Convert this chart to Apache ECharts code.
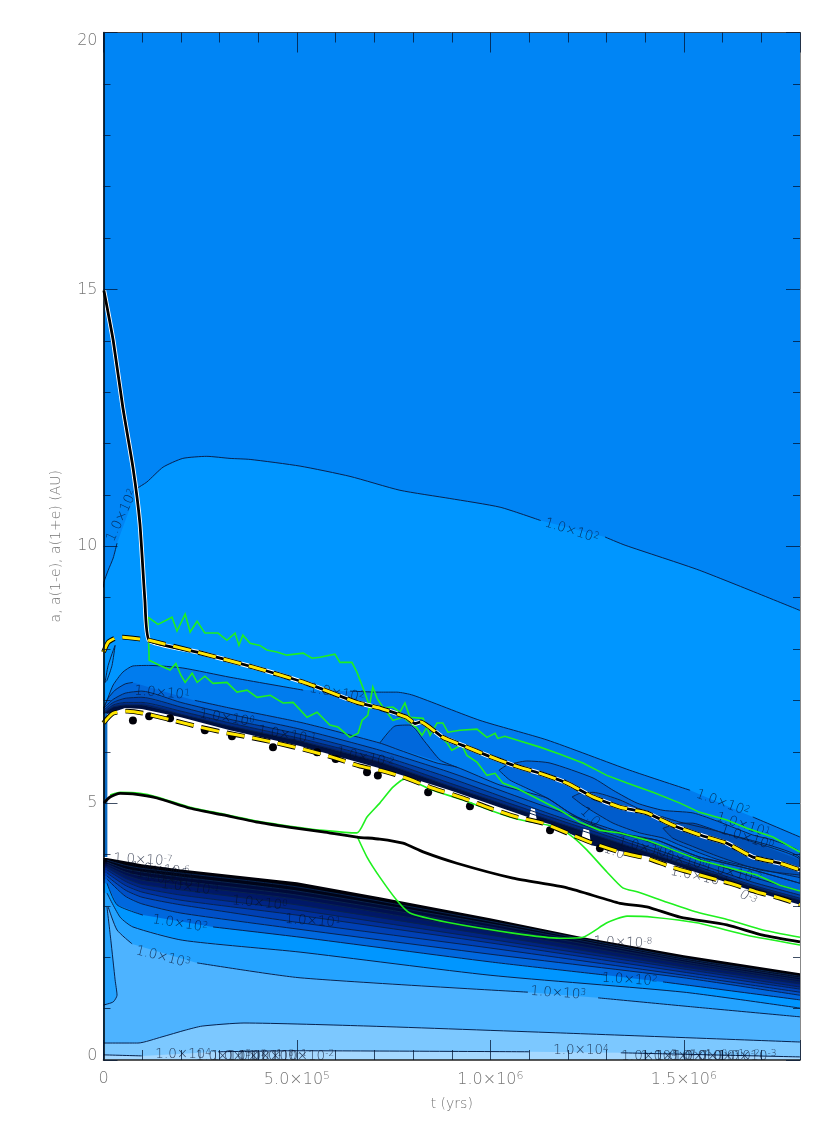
<!DOCTYPE html>
<html>
<head>
<meta charset="utf-8">
<title>a, a(1-e), a(1+e) against t</title>
<script src="https://cdn.jsdelivr.net/npm/echarts@6/dist/echarts.min.js"></script>
<style>
  html, body { margin: 0; padding: 0; background: #fff; }
  #chart { width: 830px; height: 1127px; }
</style>
</head>
<body>
<div id="chart"></div>
<script>
// every curve is [t in units of 1e5 yr, a in AU]; null marks a gap for a contour label
const tMax = 18;

// orbit curves
const planetTrack = [[0.01,14.98],[0.25,14.01],[0.5,12.7],[0.76,11.54],[0.94,10.45],[1.07,8.95],[1.18,8.17],[2.42,7.94],[3.86,7.65],[5.26,7.33],[6.55,6.96],[7.14,6.85],[7.84,6.67],[8.05,6.55],[8.2,6.58],[8.77,6.28],[9.39,6.09],[9.91,5.93],[10.58,5.74],[11.28,5.58],[11.98,5.39],[12.65,5.12],[13.35,4.92],[14.04,4.81],[14.71,4.57],[15.41,4.38],[16.11,4.22],[16.78,3.95],[17.48,3.83],[18,3.7]];
const upperDashHead = [[0,7.94],[0.12,8.13],[0.3,8.21],[0.5,8.23],[0.99,8.19]];
const lowerDash = [[0,6.56],[0.25,6.75],[0.61,6.79],[1.02,6.75],[1.8,6.61],[2.49,6.48],[3.09,6.38],[3.79,6.28],[4.48,6.17],[5.26,6.03],[5.93,5.89],[6.63,5.72],[7.14,5.64],[7.74,5.51],[8.51,5.29],[9.29,5.1],[9.99,4.9],[10.68,4.73],[11.36,4.61],[11.98,4.42],[12.65,4.22],[13.42,4.03],[14.04,3.93],[14.71,3.75],[15.41,3.6],[16.19,3.44],[16.89,3.27],[17.48,3.15],[18,3.02]];
const innerTrack = [[0.01,5],[0.17,5.12],[0.43,5.19],[0.76,5.18],[1.38,5.1],[2.24,4.9],[3.09,4.77],[3.97,4.63],[4.82,4.53],[5.67,4.44],[6.55,4.34],[7.14,4.3],[7.74,4.22],[8.26,4.05],[9.13,3.83],[10.58,3.54],[11.98,3.35],[13.35,3.05],[14.04,2.98],[14.9,2.78],[16.11,2.63],[17.04,2.43],[18,2.3]];
const greenUpper = [[1.15,8.62],[1.41,8.48],[1.67,8.58],[1.77,8.62],[1.9,8.35],[2.11,8.68],[2.24,8.33],[2.42,8.54],[2.62,8.31],[2.96,8.31],[3.19,8.17],[3.4,8.31],[3.5,8.07],[3.6,8.27],[3.79,8.11],[4.04,8.07],[4.22,7.98],[4.48,7.94],[4.74,7.88],[5.16,7.92],[5.39,7.82],[5.59,7.84],[5.98,7.9],[6.11,7.74],[6.42,7.74],[6.55,7.55],[6.76,7.14],[6.89,6.85],[7.14,6.85],[7.48,6.87],[7.66,6.77],[7.79,6.95],[7.92,6.67],[8.26,6.65],[8.44,6.32],[8.62,6.56],[8.77,6.56],[8.9,6.38],[9.21,6.42],[9.65,6.44],[9.91,6.28],[10.12,6.36],[10.19,6.26],[10.37,6.3],[10.68,6.23],[11.28,6.09],[11.8,5.95],[12.39,5.78],[13.01,5.54],[13.53,5.39],[14.2,5.21],[14.9,5],[15.41,4.82],[16.11,4.67],[16.63,4.51],[17.3,4.34],[18,4.05]];
const greenLower = [[1.15,8.62],[1.18,7.78],[1.46,7.68],[1.72,7.59],[1.87,7.72],[2,7.49],[2.11,7.35],[2.29,7.53],[2.42,7.35],[2.62,7.47],[2.83,7.33],[3.19,7.35],[3.45,7.16],[3.71,7.2],[3.97,7.06],[4.31,7.1],[4.64,6.95],[4.9,6.96],[5.26,6.67],[5.52,6.77],[5.85,6.52],[6.06,6.48],[6.37,6.28],[6.58,6.36],[6.68,6.61],[6.83,6.71],[6.96,7.26],[7.07,7.04],[7.22,6.87],[7.48,6.61],[7.74,6.67],[8.1,6.46],[8.23,6.32],[8.39,6.52],[8.88,6.17],[9,6.03],[9.26,6.13],[9.39,5.93],[9.65,5.8],[9.91,5.54],[10.12,5.58],[10.32,5.39],[10.68,5.29],[11.28,5.06],[11.8,4.86],[12.31,4.63],[12.83,4.47],[13.35,4.42],[14.04,4.28],[14.71,4.09],[15.41,3.89],[16.11,3.75],[16.89,3.6],[17.48,3.4],[18,3.29]];
const greenInnerUp = [[0.17,5.16],[0.43,5.21],[0.94,5.19],[1.38,5.12],[2.24,4.92],[3.09,4.79],[3.97,4.65],[4.82,4.55],[5.67,4.47],[6.55,4.42],[6.81,4.73],[7.14,5],[7.48,5.31],[7.79,5.47],[8.51,5.25],[9.29,5.06],[9.99,4.86],[10.68,4.69],[11.72,4.53],[12.13,4.34],[12.49,4.09],[13.01,3.66],[13.42,3.35],[13.81,3.27],[14.56,3.07],[15.33,2.88],[16.19,2.72],[17.04,2.53],[18,2.39]];
const greenInnerDown = [[6.55,4.36],[6.81,3.95],[7.14,3.56],[7.58,3.11],[7.92,2.86],[8.88,2.68],[10.58,2.47],[11.8,2.37],[12.39,2.39],[13.01,2.67],[13.53,2.8],[14.2,2.78],[15.33,2.67],[16.63,2.43],[18,2.24]];

// upper contours
const upper100 = [[0,9.2],[0.01,9.3],[0.12,9.53],[0.25,9.77],[0.35,10.06],null,[0.87,11.13],[1.12,11.25],[1.54,11.54],[2.05,11.71],[2.67,11.75],[3.27,11.71],[3.79,11.69],[5.08,11.56],[6.37,11.36],[7.66,11.09],[8.95,10.93],[10.25,10.76],[11.3,10.5],null,[12.96,10.18],[13.48,10.02],[15.41,9.53],[18,8.75]];
const belt1 = [[0,6.85],[0.12,7.06],[0.25,7.3],[0.5,7.55],[0.76,7.67],[1.2,7.68],[2.05,7.63],[3.27,7.45],[5.16,7.2],null,[6.37,7.18],[7.14,7.16],[7.58,7.16],[8,7.1],[9.73,6.61],[11.46,6.23],[13.6,5.64],[15.16,5.25],null,[16.78,4.73],[18,4.34]];
const belt2 = [[0.01,6.85],[0.12,7.04],[0.3,7.2],[0.56,7.32],[0.76,7.35],null,[2.36,7],[3.27,6.85],[5.16,6.56],[7.14,6.17],[7.66,6.03],[8.62,5.78],[9.13,5.7],[10.25,5.35],[11.46,5.1],[12.05,4.81],[13.01,4.47],[14.3,4.28],[15.41,3.95],[16.78,3.7],[18,3.44]];
const lobeD = [[9.13,5.7],[8.7,5.84],[8.31,6.19],[7.92,6.52],[7.53,6.5],[7.14,6.17]];
const lobeA = [[10.22,5.64],[10.43,5.74],[10.94,5.82],[11.54,5.78],[12.65,5.49],[13.17,5.25],[13.79,5],[14.46,4.86],[15.23,4.81],[15.93,4.63],[16.78,4.38],[17.3,4.28],[18,4.03],[18,3.44],[16.78,3.7],[16.11,3.83],[15.41,3.95],[14.9,4.09],[14.3,4.28],[13.68,4.34],[13.01,4.47],[12.49,4.61],[12.05,4.81],[11.46,5.1],[10.94,5.29],[10.5,5.45],[10.22,5.64]];
const lobeB = [[12.11,5.12],[12.31,5.19],[12.65,5.21],[13.35,5.06],[14.04,4.82],[14.46,4.73],[14.9,4.63],[15.93,4.44],[18,3.92],[18,3.55],[15.93,3.89],[14.9,4.18],[14.46,4.32],[13.86,4.42],[13.17,4.61],[12.39,4.96],[12.11,5.12]];
const lobeC = [[14.46,4.51],[14.9,4.61],[15.23,4.61],[15.59,4.53],[15.93,4.44],[16.89,4.22],[18,3.89],[18,3.6],[16.96,3.7],[15.93,3.95],[15.15,4.18],[14.71,4.32],[14.46,4.51]];
const lensLeft = [[0.04,7.35],[0.12,7.68],[0.25,7.97],[0.3,8.07],[0.22,7.68],[0.09,7.39],[0.04,7.35]];

// belt contours just above the white gap, read at these times
const beltTimes = [0.01,0.25,0.56,0.99,2,3.27,5.08,7.14,8.95,11.54,14.12,16.7,18];
const belt3 = [6.85,7.02,7.14,7.18,6.96,6.73,6.44,6.03,5.6,4.9,4.24,3.58,3.29];
const belt4 = [6.81,6.96,7.04,7.06,6.87,6.63,6.34,5.93,5.49,4.79,4.14,3.48,3.21];
const belt5 = [6.77,6.91,6.96,6.96,6.79,6.56,6.26,5.86,5.39,4.73,4.09,3.42,3.15];
const belt6 = [6.75,6.87,6.91,6.91,6.73,6.5,6.21,5.8,5.33,4.67,4.03,3.39,3.11];
const whiteTop = [[0.09,6.73],[0.56,6.85],[0.99,6.83],[2,6.67],[3.27,6.42],[5.08,6.11],[7.14,5.68],[8.95,5.25],[11,4.72],[11.05,4.9],[11.15,4.88],[11.2,4.66],[11.54,4.59],[12.35,4.3],[12.4,4.5],[12.55,4.48],[12.6,4.18],[14.12,3.95],[16.7,3.31],[18,3.02]];
const blobs = [[0.76,6.61],[1.18,6.69],[1.72,6.65],[2.62,6.42],[3.32,6.3],[4.38,6.09],[5.52,5.99],[6,5.86],[6.81,5.6],[7.09,5.54],[8.39,5.21],[9.47,4.94],[11.54,4.47],[12.83,4.12]];
const leftStripe = [[0,6.75],[0.1,6.75],[0.1,3.95],[0,3.95]];

// lower contours, dark band read at these times
const darkTop = [[0.09,3.93],[0.56,3.87],[0.99,3.81],[2,3.71],[5,3.46],[7.14,3.17],[9.99,2.76],[12.39,2.39],[15,2.04],[18,1.69]];
const darkTimes = [0.09,0.56,0.99,2,5,9.99,15,18];
const dark1 = [3.89,3.79,3.73,3.64,3.37,2.7,1.98,1.63];
const dark2 = [3.85,3.72,3.66,3.56,3.29,2.65,1.95,1.6];
const dark3 = [3.81,3.66,3.58,3.48,3.21,2.59,1.91,1.56];
const dark4 = [3.77,3.6,3.5,3.4,3.13,2.51,1.87,1.52];
const dark5 = [3.74,3.54,3.42,3.31,3.02,2.43,1.81,1.48];
const dark6 = [3.7,3.48,3.35,3.21,2.92,2.35,1.77,1.42];
const dark7 = [3.64,3.4,3.27,3.11,2.82,2.28,1.71,1.38];
const dark8 = [3.58,3.31,3.17,3.02,2.68,2.18,1.65,1.32];
const dark9 = [3.52,3.19,3.04,2.86,2.55,2.06,1.6,1.26];
const lower100 = [[0.09,3.44],[0.35,3.02],[1.02,2.82],null,[2.83,2.59],[5.08,2.39],[9.99,1.91],[13.01,1.65],null,[14.46,1.52],[18,1.17]];
const lower300 = [[0.09,3.25],[0.43,2.78],[0.76,2.59],[2.05,2.33],[5.08,2.1],[9.99,1.65],[15,1.32],[18,1.01]];
const lower1000 = [[0.12,2.98],[0.35,2.53],[0.74,2.26],null,[2.42,1.89],[5.08,1.6],[10.97,1.32],null,[12.78,1.21],[15.28,1.03],[18,0.84]];
const lobeLow = [[0.09,2.98],[0.19,2.33],[0.3,1.56],[0.35,1.26],[0.25,1.13],[0,1.07]];
const lower3000 = [[0,0.33],[0.89,0.33],[1.51,0.45],[2.11,0.58],[2.55,0.66],[3.63,0.72],[6.86,0.66],[11.69,0.53],[18,0.35]];
const lower10000 = [[0,0.1],[0.99,0.08],null,[2.96,0.16],[4.95,0.18],[11,0.16],null,[13.37,0.14],[18,0.06]];

// contour labels: t, a, text, rotation
const contourLabels = [
  [0.48,10.6,'1.0×10{s|2}',65],[12.1,10.3,'1.0×10{s|2}',-17],[6.03,7.14,'1.0×10{s|2}',-10],
  [1.51,7.14,'1.0×10{s|1}',-5],[3.19,6.65,'1.0×10{s|0}',-9],[4.74,6.32,'1.0×10{s|-1}',-10],[6.76,5.88,'1.0×10{s|-2}',-12],
  [16,5,'1.0×10{s|2}',-20],[16.53,4.57,'1.0×10{s|1}',-18],[16.63,4.32,'1.0×10{s|0}',-18],
  [12.57,4.73,'1.0',-45],[13.2,4.05,'1.0',-20],[14,4.12,'1.0×10{s|1}',-14],[14.9,3.9,'1.0×10{s|0}',-14],
  [15.4,3.56,'1.0×10{s|-1}',-12],[16.26,3.64,'1.0×10{s|-2}',-14],[16.65,3.15,'0{s|-3}',-35],
  [1.02,3.89,'1.0×10{s|-7}',-3],[1.4,3.65,'1.0×10{s|-5}',-5],[1.46,3.7,'1.0×10{s|-6}',-5],[1.6,3.58,'1.0×10{s|-4}',-6],[1.8,3.5,'1.0×10{s|-3}',-7],
  [2.24,3.35,'1.0×10{s|-1}',-7],[4.04,3.05,'1.0×10{s|0}',-6],[5.41,2.7,'1.0×10{s|1}',-4],[1.98,2.65,'1.0×10{s|2}',-9],[1.54,2,'1.0×10{s|3}',-14],
  [13.42,2.28,'1.0×10{s|-8}',-2],[13.6,1.56,'1.0×10{s|2}',-4],[11.75,1.3,'1.0×10{s|3}',-4],
  [2.06,0.1,'1.0×10{s|4}',0],[12.34,0.18,'1.0×10{s|4}',0],
  [3.1,0.07,'1.0×10{s|3}',0],[3.5,0.07,'1.0×10{s|2}',0],[3.9,0.07,'1.0×10{s|1}',0],[4.2,0.07,'1.0×10{s|0}',0],[4.5,0.07,'1.0×10{s|-1}',0],[5.2,0.07,'1.0×10{s|-2}',0],
  [14.1,0.07,'1.0×10{s|3}',0],[14.6,0.07,'1.0×10{s|2}',0],[15,0.07,'1.0×10{s|1}',0],[15.4,0.07,'1.0×10{s|0}',0],[15.8,0.07,'1.0×10{s|-1}',0],[16.2,0.07,'1.0×10{s|-2}',0],[16.63,0.07,'1.0×10{s|-3}',0]
];

const labelFont = "'DejaVu Sans Light', 'DejaVu Sans'";
const toYears = p => p ? [p[0] * 1e5, p[1]] : ['-', '-'];
const zip = (times, vals) => times.map((t, i) => [t, vals[i]]);
const solid = curve => curve.filter(Boolean);

// region under a contour, down to the axis
const below = curve => {
  const pts = solid(curve);
  return [[0, pts[0][1]], ...pts, [tMax, 0], [0, 0]];
};

const dark = [darkTop, ...[dark1, dark2, dark3, dark4, dark5, dark6, dark7, dark8, dark9].map(v => zip(darkTimes, v))];
const darkColors = ['#000008', '#000418', '#000a38', '#001050', '#001868', '#002484', '#00309c', '#0040b4', '#0050c8', '#0068de'];
const [b3, b4, b5, b6] = [belt3, belt4, belt5, belt6].map(v => zip(beltTimes, v));

// painted back to front
const fills = [
  { pts: below(upper100), color: '#0096ff' },
  { pts: below(belt1), color: '#007cee' },
  { pts: below(belt2), color: '#0068dc' },
  { pts: lobeD, color: '#0068dc' },
  { pts: lobeA, color: '#0068dc' },
  { pts: lobeB, color: '#005ccc' },
  { pts: lobeC, color: '#0050b8' },
  { pts: below(b3), color: '#0056c4' },
  { pts: below(b4), color: '#0040a8' },
  { pts: below(b5), color: '#002a84' },
  { pts: below(b6), color: '#001040' },
  { pts: below(whiteTop), color: '#ffffff' },
  ...dark.map((c, i) => ({ pts: below(c), color: darkColors[i] })),
  { pts: below(lower100), color: '#0096ff' },
  { pts: below(lower300), color: '#24a3ff' },
  { pts: below(lower1000), color: '#4db3ff' },
  { pts: [...lobeLow, [0, 2.98]], color: '#24a3ff' },
  { pts: below(lower3000), color: '#7cc8ff' },
  { pts: below(lower10000), color: '#a5d8ff' },
  { pts: leftStripe, color: '#0b6bc4' }
];

const contours = [upper100, belt1, belt2, lobeD, lobeA, lobeB, lobeC, lensLeft, b3, b4, b5, b6,
  ...dark.slice(1), lower100, lower300, lower1000, lobeLow, lower3000, lower10000];

const lineSeries = (curve, color, width, z, dash, smooth) => ({
  type: 'line',
  data: curve.map(toYears),
  symbol: 'none',
  silent: true,
  z: z,
  clip: true,
  smooth: smooth || false,
  lineStyle: { color: color, width: width, type: dash || 'solid', cap: 'butt', join: 'miter' }
});

const upperDash = [...upperDashHead, ...planetTrack.slice(6)];
const series = [
  {
    type: 'custom',
    z: 2,
    silent: true,
    clip: true,
    data: fills.map((f, i) => [i * 1e5, 1]),
    renderItem(params, api) {
      const f = fills[params.dataIndex];
      return {
        type: 'polygon',
        shape: { points: f.pts.map(p => api.coord(toYears(p))) },
        style: { fill: f.color }
      };
    }
  },
  ...contours.map(c => lineSeries(c, '#08234f', 1, 3, null, 0.2)),
  {
    type: 'scatter',
    data: blobs.map(toYears),
    symbol: 'circle',
    symbolSize: 8,
    silent: true,
    z: 3,
    itemStyle: { color: '#000008', opacity: 1 }
  },
  {
    type: 'scatter',
    silent: true,
    z: 4,
    symbolSize: 1,
    itemStyle: { color: 'transparent' },
    data: contourLabels.map(([t, a, text, rot]) => ({
      value: [t * 1e5, a],
      label: { show: true, position: 'inside', rotate: rot, formatter: text }
    })),
    label: {
      fontFamily: labelFont,
      fontSize: 13.5,
      color: 'rgba(5,15,40,0.95)',
      rich: { s: { fontFamily: labelFont, fontSize: 9, verticalAlign: 'top', lineHeight: 14, padding: [0, 0, 6, 0], color: 'rgba(5,15,40,0.95)' } }
    }
  },
  lineSeries(greenUpper, '#1ff01f', 1.6, 5),
  lineSeries(greenLower, '#1ff01f', 1.6, 5),
  lineSeries(greenInnerUp, '#1ff01f', 1.6, 5, null, 0.2),
  lineSeries(greenInnerDown, '#1ff01f', 1.6, 5, null, 0.2),
  lineSeries(planetTrack, '#ffffff', 4.6, 6, null, 0.15),
  lineSeries(planetTrack, '#000000', 2.8, 6, null, 0.15),
  lineSeries(innerTrack, '#000000', 2.8, 6, null, 0.2),
  lineSeries(upperDash, '#000000', 4.8, 7, [18, 8], 0.15),
  lineSeries(upperDash, '#ffe600', 3, 7, [18, 8], 0.15),
  lineSeries(lowerDash, '#000000', 4.8, 7, [18, 8], 0.2),
  lineSeries(lowerDash, '#ffe600', 3, 7, [18, 8], 0.2)
];

const tickFormatter = v => {
  if (v === 0) return '0';
  const exp = Math.floor(Math.log10(v));
  return (v / Math.pow(10, exp)).toFixed(1) + '×10{s|' + exp + '}';
};
const axisRich = { s: { fontFamily: labelFont, fontSize: 11, color: '#777', verticalAlign: 'top', padding: [0, 0, 7, 0] } };
const tickStyle = { color: 'rgba(0,20,50,0.75)', width: 1 };

const chart = echarts.init(document.getElementById('chart'));
chart.setOption({
  animation: false,
  backgroundColor: '#ffffff',
  grid: {
    left: 103.5, top: 32.5, right: 30, bottom: 67,
    show: true, backgroundColor: '#0085f5', borderWidth: 0
  },
  xAxis: [
    {
      type: 'value', position: 'bottom', min: 0, max: tMax * 1e5, interval: 5e5, z: 20,
      name: 't (yrs)', nameLocation: 'center', nameGap: 37,
      nameTextStyle: { fontFamily: labelFont, fontSize: 14, color: '#777' },
      splitLine: { show: false },
      axisLine: { show: true, onZero: false, lineStyle: { color: '#222', width: 1.5 } },
      axisTick: { show: true, inside: true, length: 20, lineStyle: tickStyle },
      minorTick: { show: true, splitNumber: 5, length: 10, lineStyle: tickStyle },
      axisLabel: { margin: 11, fontFamily: labelFont, fontSize: 16, color: '#777', showMaxLabel: false, formatter: tickFormatter, rich: axisRich }
    },
    {
      type: 'value', position: 'top', min: 0, max: tMax * 1e5, interval: 5e5, z: 20,
      splitLine: { show: false },
      axisLine: { show: true, onZero: false, lineStyle: { color: '#444', width: 1 } },
      axisTick: { show: true, inside: true, length: 20, lineStyle: tickStyle },
      minorTick: { show: true, splitNumber: 5, length: 10, lineStyle: tickStyle },
      axisLabel: { show: false }
    }
  ],
  yAxis: [
    {
      type: 'value', position: 'left', min: 0, max: 20, interval: 5, z: 20,
      name: 'a, a(1-e), a(1+e) (AU)', nameLocation: 'center', nameGap: 40, nameRotate: 90,
      nameTextStyle: { fontFamily: labelFont, fontSize: 14, color: '#777' },
      splitLine: { show: false },
      axisLine: { show: true, onZero: false, lineStyle: { color: '#000', width: 1.5 } },
      axisTick: { show: true, inside: true, length: 14, lineStyle: tickStyle },
      minorTick: { show: true, splitNumber: 5, length: 7, lineStyle: tickStyle },
      axisLabel: {
        margin: 6, fontFamily: labelFont, fontSize: 16, color: '#777',
        verticalAlignMaxLabel: 'top', verticalAlignMinLabel: 'bottom',
        formatter: v => v === 0 ? '{z|0}' : String(v),
        rich: { z: { fontFamily: labelFont, fontSize: 16, color: '#777', lineHeight: 8 } }
      }
    },
    {
      type: 'value', position: 'right', min: 0, max: 20, interval: 5, z: 20,
      splitLine: { show: false },
      axisLine: { show: true, onZero: false, lineStyle: { color: '#888', width: 1 } },
      axisTick: { show: true, inside: true, length: 14, lineStyle: tickStyle },
      minorTick: { show: true, splitNumber: 5, length: 7, lineStyle: tickStyle },
      axisLabel: { show: false }
    }
  ],
  series: series
});
</script>
</body>
</html>
